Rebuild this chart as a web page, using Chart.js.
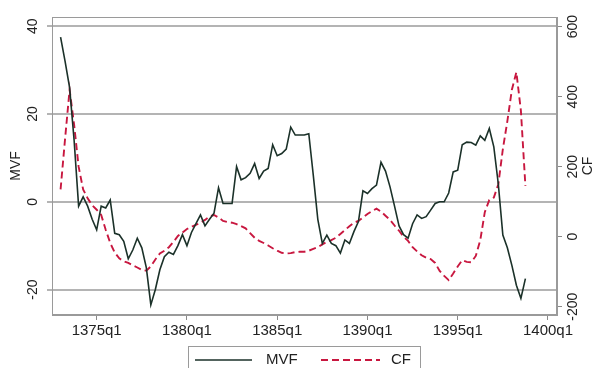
<!DOCTYPE html>
<html><head><meta charset="utf-8">
<script src="https://cdn.jsdelivr.net/npm/chart.js@4/dist/chart.umd.min.js"></script>
<style>html,body{margin:0;padding:0;background:#fff}canvas{display:block}</style>
</head><body>
<canvas id="c" width="595" height="368"></canvas>
<script>
// categories: quarters 1373q1 .. 1398q4
const quarters = [];
for (let y = 1373; y <= 1398; y++) for (let q = 1; q <= 4; q++) quarters.push(y + 'q' + q);

const mvf = [37.5, 32, 26, 14, -1, 1.1, -1, -4, -6.4, -1, -1.4, 0.4, -7.2, -7.5, -9, -13,
  -11, -8.3, -10.5, -15, -23.5, -20, -15.5, -12.5, -11.5, -12, -10, -7.5, -10, -7, -5, -3,
  -5.5, -4, -2.6, 3.2, -0.4, -0.4, -0.4, 8, 5, 5.5, 6.5, 8.7, 5.3, 7, 7.6, 13,
  10.5, 11, 12, 17, 15.2, 15.2, 15.2, 15.5, 6, -4, -9.5, -7.6, -9.5, -10, -11.7, -8.7,
  -9.5, -6.8, -4.5, 2.5, 1.9, 3, 3.8, 9, 7, 3.4, -1, -5.5, -7.5, -8.3, -5, -3,
  -3.8, -3.4, -1.9, -0.4, 0, 0, 2, 6.8, 7.2, 13, 13.6, 13.5, 12.9, 15, 14, 16.7,
  12.5, 4, -7.6, -10.5, -14.5, -19, -22, -17.5];

const cf = [135, 280, 420, 320, 200, 135, 110, 90, 77, 62, 20, -18, -45, -62, -70, -75,
  -82, -88, -95, -97, -85, -65, -48, -40, -30, -15, 2, 12, 22, 28, 34, 40,
  48, 58, 62, 55, 45, 42, 40, 36, 30, 24, 10, -3, -12, -18, -25, -33,
  -40, -46, -48, -47, -44, -43, -43, -40, -35, -30, -22, -15, -10, -3, 8, 19,
  30, 40, 45, 55, 65, 73, 80, 72, 60, 48, 32, 17, 0, -12, -30, -42,
  -53, -60, -64, -75, -98, -112, -124, -105, -85, -67, -72, -73, -55, -10, 70, 105,
  112, 150, 250, 330, 420, 470, 360, 145];

const xTickLabels = ['1375q1', '1380q1', '1385q1', '1390q1', '1395q1', '1400q1'];
const mvfTicks = [-20, 0, 20, 40];
const cfTicks = [-200, 0, 200, 400, 600];

function qIndex(label) {
  const y = parseInt(label.slice(0, 4), 10), q = parseInt(label.slice(5), 10);
  return (y - 1373) * 4 + (q - 1);
}

const MVF_COLOR = '#1b3129';
const CF_COLOR = '#c8173f';
const FONT = "'Liberation Sans', Arial, sans-serif";

const decor = {
  id: 'decor',
  beforeDatasetsDraw(chart) {
    const {ctx, chartArea: a} = chart;
    ctx.save();
    ctx.strokeStyle = '#9a9a9a';
    ctx.lineWidth = 1;
    ctx.strokeRect(a.left + 0.5, a.top + 0.5, a.right - a.left - 1, a.bottom - a.top - 1);
    ctx.restore();
  },
  afterDraw(chart) {
    const {ctx, chartArea: a} = chart;
    const mid = (a.top + a.bottom) / 2;
    ctx.save();
    ctx.fillStyle = '#222';
    ctx.font = '14px ' + FONT;
    ctx.textAlign = 'center';
    ctx.textBaseline = 'middle';
    // axis titles
    ctx.save(); ctx.translate(16, mid); ctx.rotate(-Math.PI / 2); ctx.fillText('MVF', 0, 0); ctx.restore();
    ctx.save(); ctx.translate(588, mid); ctx.rotate(-Math.PI / 2); ctx.fillText('CF', 0, 0); ctx.restore();
    // legend
    ctx.fillStyle = '#fff';
    ctx.fillRect(188, 346, 232, 30);
    ctx.strokeStyle = '#9a9a9a';
    ctx.lineWidth = 1;
    ctx.strokeRect(188.5, 346.5, 232, 30);
    const ly = 360;
    const ds = chart.data.datasets;
    const items = [{x0: 195, x1: 252, tx: 266}, {x0: 321, x1: 380, tx: 391}];
    items.forEach((it, i) => {
      ctx.save();
      ctx.strokeStyle = ds[i].borderColor;
      ctx.lineWidth = ds[i].borderWidth;
      ctx.setLineDash(ds[i].borderDash || []);
      ctx.beginPath(); ctx.moveTo(it.x0, ly); ctx.lineTo(it.x1, ly); ctx.stroke();
      ctx.restore();
      ctx.fillStyle = '#222';
      ctx.font = '15px ' + FONT;
      ctx.textAlign = 'left';
      ctx.fillText(ds[i].label, it.tx, ly);
    });
    ctx.restore();
  }
};

new Chart(document.getElementById('c'), {
  type: 'line',
  data: {
    datasets: [
      {label: 'MVF', data: mvf.map((v, i) => ({x: qIndex(quarters[i]), y: v})), yAxisID: 'y',
       borderColor: MVF_COLOR, borderWidth: 1.6, pointRadius: 0, tension: 0, fill: false},
      {label: 'CF', data: cf.map((v, i) => ({x: qIndex(quarters[i]), y: v})), yAxisID: 'y1',
       borderColor: CF_COLOR, borderWidth: 1.9, borderDash: [7, 4], pointRadius: 0, tension: 0, fill: false}
    ]
  },
  options: {
    responsive: false,
    animation: false,
    devicePixelRatio: 1,
    layout: {padding: {top: 17, left: 0, right: 0, bottom: 0}},
    plugins: {legend: {display: false}, tooltip: {enabled: false}},
    scales: {
      x: {
        type: 'linear', min: -1.9, max: 110,
        afterBuildTicks: s => { s.ticks = xTickLabels.map(l => ({value: qIndex(l)})); },
        afterFit: s => { s.height = 53; },
        ticks: {
          callback: v => xTickLabels.find(l => qIndex(l) === v) || '',
          font: {family: FONT, size: 15}, color: '#222', padding: 2, maxRotation: 0, minRotation: 0
        },
        grid: {drawOnChartArea: false, tickLength: 5, color: '#8a8a8a'},
        border: {display: true, color: '#9a9a9a'}
      },
      y: {
        position: 'left', min: -25.8, max: 42.1,
        afterBuildTicks: s => { s.ticks = mvfTicks.map(v => ({value: v})); },
        afterFit: s => { s.width = 52; },
        ticks: {font: {family: FONT, size: 14}, color: '#222', minRotation: 90, maxRotation: 90,
                crossAlign: 'center', padding: 4},
        grid: {color: '#b4b4b4', lineWidth: 2, tickLength: 5},
        border: {display: true, color: '#9a9a9a'}
      },
      y1: {
        position: 'right', min: -223.7, max: 627.7,
        afterBuildTicks: s => { s.ticks = cfTicks.map(v => ({value: v})); },
        afterFit: s => { s.width = 38; },
        ticks: {font: {family: FONT, size: 14}, color: '#222', minRotation: 90, maxRotation: 90,
                crossAlign: 'center', padding: -3},
        grid: {drawOnChartArea: false, tickLength: 5, color: '#8a8a8a'},
        border: {display: true, color: '#9a9a9a'}
      }
    }
  },
  plugins: [decor]
});
</script>
</body></html>
